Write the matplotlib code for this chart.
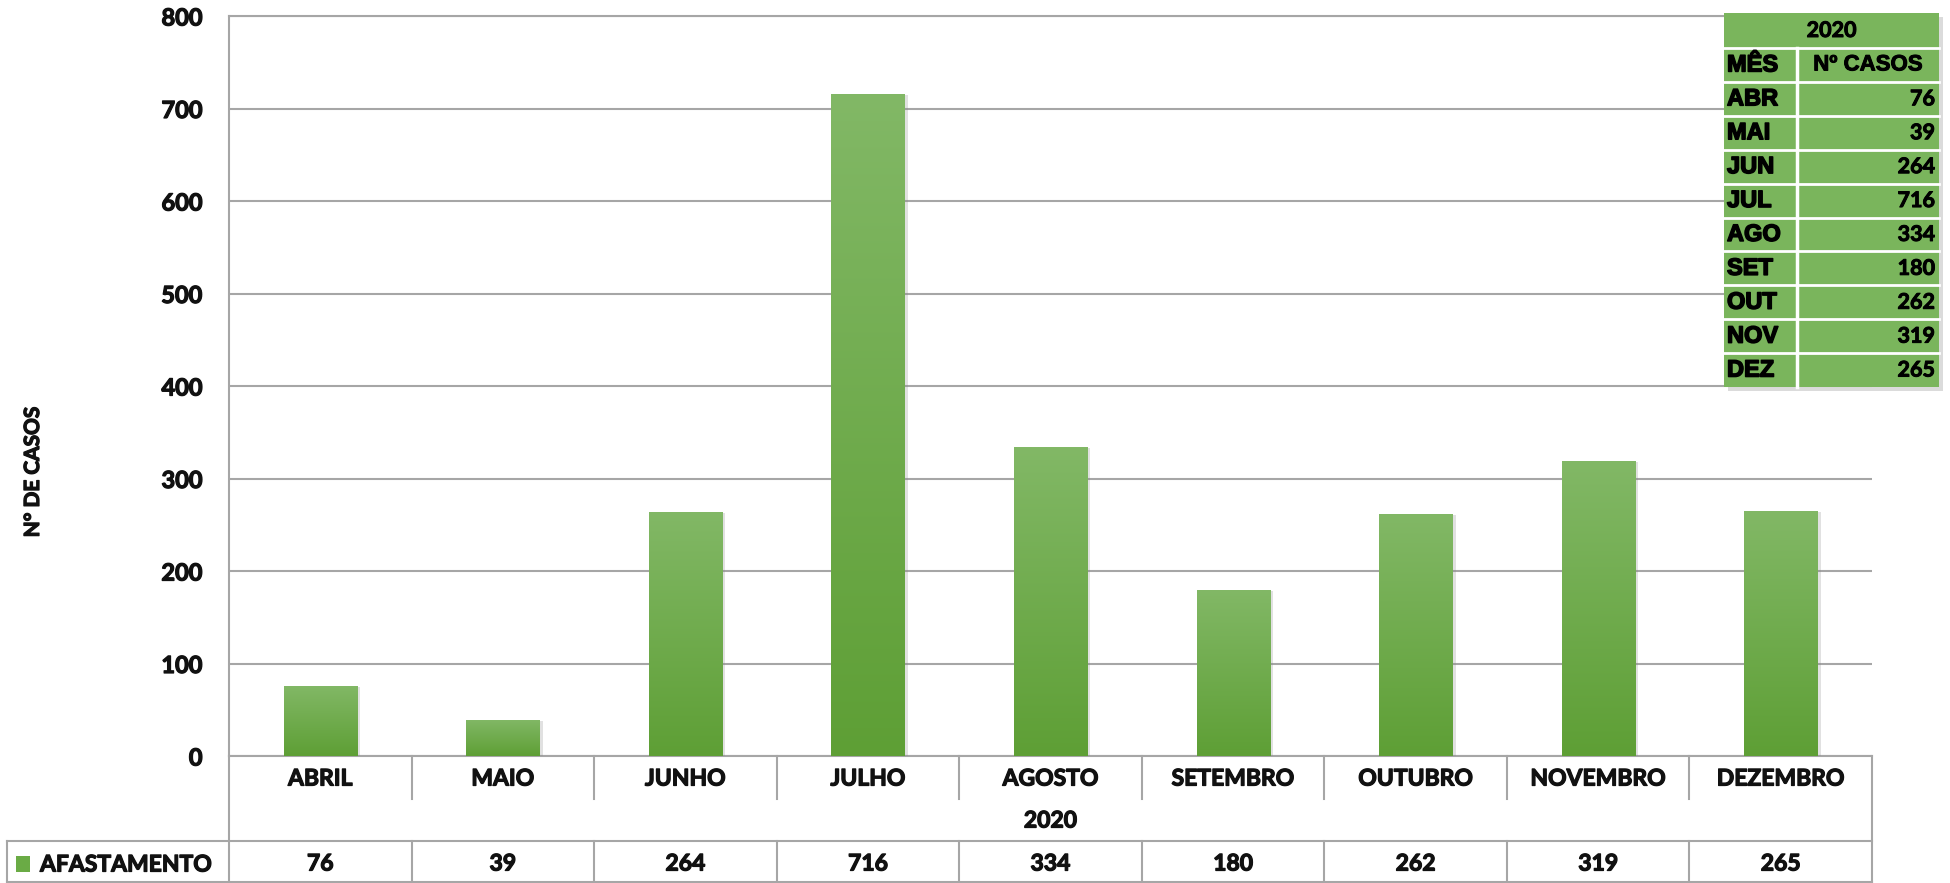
import matplotlib
matplotlib.use("Agg")
import matplotlib.pyplot as plt
import numpy as np
from matplotlib import font_manager as fm
from matplotlib.transforms import blended_transform_factory
from matplotlib.patches import Rectangle
from matplotlib.lines import Line2D
from matplotlib.colors import LinearSegmentedColormap
import matplotlib.patheffects as pe

# ---------------- data ----------------
months = ["ABRIL", "MAIO", "JUNHO", "JULHO", "AGOSTO", "SETEMBRO",
          "OUTUBRO", "NOVEMBRO", "DEZEMBRO"]
months_short = ["ABR", "MAI", "JUN", "JUL", "AGO", "SET", "OUT", "NOV", "DEZ"]
cases = [76, 39, 264, 716, 334, 180, 262, 319, 265]
year = "2020"
series_name = "AFASTAMENTO"
y_ticks = [0, 100, 200, 300, 400, 500, 600, 700, 800]
y_label = "N° DE CASOS"
table_headers = ["MÊS", "Nº CASOS"]

# ---------------- fonts: pick a humanist family that really has a bold face ----------------
def has_bold(name):
    for f in fm.fontManager.ttflist:
        if f.name == name and f.style == "normal":
            w = f.weight
            if isinstance(w, str):
                w = {"bold": 700, "heavy": 800, "black": 900, "semibold": 600,
                     "demibold": 600, "extra bold": 800}.get(w.lower(), 400)
            if w >= 600:
                return True
    return False


chosen = "Liberation Sans"
for cand in ["Lato", "Open Sans", "Noto Sans", "Roboto", "Inter"]:
    if has_bold(cand):
        chosen = cand
        break
LABEL_FONT = [chosen, "DejaVu Sans"]
ARIAL = ["Liberation Sans", "DejaVu Sans"]

# ---------------- style ----------------
W, H = 1950, 883
GRID = "#a6a6a6"
GREEN = "#7ab55c"
LEG_GREEN = "#6aab45"
TXT = "#111111"
THICK = [pe.withStroke(linewidth=0.9, foreground=TXT)]
THICK_K = [pe.withStroke(linewidth=0.7, foreground="black")]
THICK_A = [pe.withStroke(linewidth=1.1, foreground="black")]


def fx(px):
    return px / W


def fy(py):
    return 1 - py / H


fig = plt.figure(figsize=(W / 100, H / 100), dpi=100)
fig.patch.set_facecolor("white")

ax = fig.add_axes([fx(229), fy(756), fx(1872) - fx(229), fy(16) - fy(756)])
x = np.arange(len(months))

bars = ax.bar(x, cases, width=0.4, color="#6fae4b", zorder=3, linewidth=0)
for b in bars:
    b.set_path_effects([pe.SimplePatchShadow(offset=(2.5, -1), shadow_rgbFace="#888888", alpha=0.25),
                        pe.Normal()])

cmap = LinearSegmentedColormap.from_list("g", ["#5e9f35", "#82b866"])
grad = np.linspace(0, 1, 256).reshape(-1, 1)
for b in bars:
    x0, w, h = b.get_x(), b.get_width(), b.get_height()
    im = ax.imshow(grad, cmap=cmap, extent=[x0, x0 + w, 0, h], origin="lower",
                   aspect="auto", zorder=4, interpolation="bilinear")
    im.set_clip_path(b)

ax.set_xlim(-0.5, len(months) - 0.5)
ax.set_ylim(0, 800)
ax.set_yticks(y_ticks)
ax.set_xticks([])
ax.yaxis.grid(True, color=GRID, lw=1.5)
ax.set_axisbelow(True)
for s in ["left", "bottom", "top"]:
    ax.spines[s].set_color(GRID)
    ax.spines[s].set_linewidth(1.5)
ax.spines["right"].set_visible(False)
ax.tick_params(axis="y", length=0, pad=19, labelsize=17, labelcolor=TXT)
for lab in ax.get_yticklabels():
    lab.set_fontweight("bold")
    lab.set_family(LABEL_FONT)
    lab.set_path_effects(THICK)

fig.text(fx(33), fy(472), y_label, rotation=90, ha="center", va="center",
         fontsize=15, fontweight="bold", family=LABEL_FONT, color=TXT, path_effects=THICK)

# ---------------- bottom data table ----------------
bt = blended_transform_factory(ax.transData, fig.transFigure)
lw = 1.5
n = len(months)
for i in range(n - 1):
    xb = i + 0.5
    fig.add_artist(Line2D([xb, xb], [fy(756), fy(799)], transform=bt, color=GRID, lw=lw))
    fig.add_artist(Line2D([xb, xb], [fy(841), fy(883)], transform=bt, color=GRID, lw=lw))
for xb in (-0.5, n - 0.5):
    fig.add_artist(Line2D([xb, xb], [fy(756), fy(883)], transform=bt, color=GRID, lw=lw))
fig.add_artist(Line2D([fx(7), fx(1872)], [fy(841), fy(841)], color=GRID, lw=lw))
fig.add_artist(Line2D([fx(7), fx(1872)], [fy(882), fy(882)], color=GRID, lw=lw))
fig.add_artist(Line2D([fx(7), fx(7)], [fy(841), fy(883)], color=GRID, lw=lw))

for i, (m, v) in enumerate(zip(months, cases)):
    fig.text(i, fy(779), m, transform=bt, ha="center", va="center",
             fontsize=16.5, fontweight="bold", family=LABEL_FONT, color=TXT, path_effects=THICK)
    fig.text(i, fy(864), str(v), transform=bt, ha="center", va="center",
             fontsize=16.5, fontweight="bold", family=LABEL_FONT, color=TXT, path_effects=THICK)
fig.text((n - 1) / 2, fy(821), year, transform=bt, ha="center", va="center",
         fontsize=16.5, fontweight="bold", family=LABEL_FONT, color=TXT, path_effects=THICK)

fig.add_artist(Rectangle((fx(16), fy(872)), fx(14), 16 / H, transform=fig.transFigure,
                         facecolor=LEG_GREEN, edgecolor="none"))
fig.text(fx(40), fy(865), series_name, ha="left", va="center",
         fontsize=16.5, fontweight="bold", family=LABEL_FONT, color=TXT, path_effects=THICK)

# ---------------- top-right summary table ----------------
tx0, tx1, ty0, ty1 = 1724, 1939, 13, 387
tcol = 1797
hdr_bottom = 48
nrows = len(months_short) + 1
rh = (ty1 - hdr_bottom) / nrows

fig.add_artist(Rectangle((fx(tx0 + 4), fy(ty1 + 4)), fx(tx1 - tx0), (ty1 - ty0) / H,
                         transform=fig.transFigure, facecolor="#9a9a9a", alpha=0.35,
                         edgecolor="none", zorder=5))
fig.add_artist(Rectangle((fx(tx0), fy(ty1)), fx(tx1 - tx0), (ty1 - ty0) / H,
                         transform=fig.transFigure, facecolor=GREEN, edgecolor="none", zorder=6))
row_lines = [hdr_bottom + k * rh for k in range(nrows)]
for yl in row_lines:
    fig.add_artist(Line2D([fx(tx0), fx(tx1)], [fy(yl), fy(yl)], color="white", lw=2, zorder=7))
fig.add_artist(Line2D([fx(tcol), fx(tcol)], [fy(hdr_bottom), fy(ty1)], color="white", lw=2.5, zorder=7))

fig.text(fx((tx0 + tx1) / 2), fy((ty0 + hdr_bottom) / 2), year, ha="center", va="center",
         fontsize=15.5, fontweight="bold", family=LABEL_FONT, color="black", zorder=8,
         path_effects=THICK_K)
yc = hdr_bottom + rh / 2
fig.text(fx(tx0 + 3), fy(yc), table_headers[0], ha="left", va="center",
         fontsize=17, fontweight="bold", family=ARIAL, color="black", zorder=8,
         path_effects=THICK_A)
fig.text(fx((tcol + tx1) / 2), fy(yc), table_headers[1], ha="center", va="center",
         fontsize=16, fontweight="bold", family=ARIAL, color="black", zorder=8,
         path_effects=THICK_K)
for k, (m, v) in enumerate(zip(months_short, cases)):
    yc = hdr_bottom + (k + 1.5) * rh
    fig.text(fx(tx0 + 3), fy(yc), m, ha="left", va="center",
             fontsize=17, fontweight="bold", family=ARIAL, color="black", zorder=8,
             path_effects=THICK_A)
    fig.text(fx(tx1 - 4), fy(yc), str(v), ha="right", va="center",
             fontsize=15.5, fontweight="bold", family=LABEL_FONT, color="black", zorder=8,
             path_effects=THICK_K)

fig.savefig("out.png", dpi=100, facecolor="white")
